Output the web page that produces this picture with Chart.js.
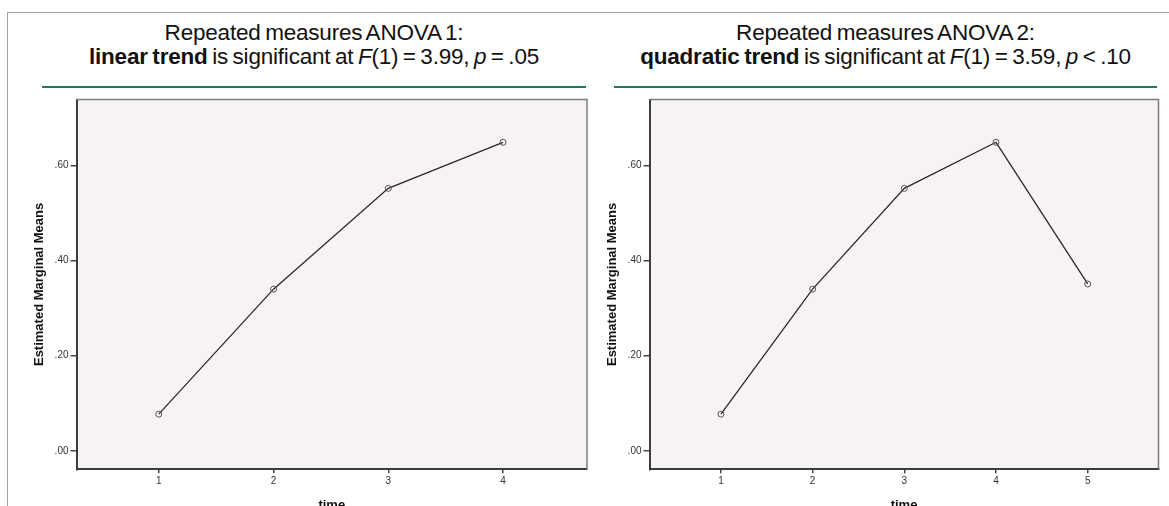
<!DOCTYPE html>
<html lang="en">
<head>
    <meta charset="UTF-8">
    <title>Repeated measures ANOVA - linear vs quadratic trend</title>
    <script src="https://cdn.jsdelivr.net/npm/chart.js"></script>
    <style>
        html, body { margin: 0; padding: 0; background: #fff; overflow: hidden; }
        body { width: 1169px; height: 506px; position: relative; font-family: "Liberation Sans", Arial, sans-serif; }
        #frame { position: absolute; left: 7px; top: 12px; width: 1200px; height: 520px; border-top: 1.5px solid #a3a3a3; border-left: 1.5px solid #a3a3a3; }
        .title { position: absolute; top: 21px; text-align: center; font-size: 22.5px; line-height: 24px; color: #111; word-spacing: -1.5px; letter-spacing: -0.2px; }
        .rule { position: absolute; top: 85.5px; height: 2.5px; background: #1f7a58; }
        .panel { position: absolute; top: 90px; width: 596px; height: 430px; }
    </style>
</head>
<body>

<div id="frame"></div>

<div class="title" style="left:42px; width:544px;">Repeated measures ANOVA 1:<br><b>linear trend</b> is significant at <i>F</i>(1) = 3.99, <i>p</i> = .05</div>
<div class="rule" style="left:42px; width:544px;"></div>

<div class="title" style="left:614px; width:543px;">Repeated measures ANOVA 2:<br><b>quadratic trend</b> is significant at <i>F</i>(1) = 3.59, <i>p</i> &lt; .10</div>
<div class="rule" style="left:614px; width:543px;"></div>

<div class="panel" style="left:0px;"><canvas id="chart1"></canvas></div>
<div class="panel" style="left:573px;"><canvas id="chart2"></canvas></div>

<script>
    // data
    const time1 = [1, 2, 3, 4];
    const means1 = [0.077, 0.340, 0.552, 0.649];

    const time2 = [1, 2, 3, 4, 5];
    const means2 = [0.077, 0.340, 0.552, 0.649, 0.351];

    const yTicks = [0, 0.2, 0.4, 0.6];

    // plot background + thin top/right frame
    const plotBox = {
        id: 'plotBox',
        beforeDraw(chart) {
            const {ctx, chartArea: a} = chart;
            ctx.save();
            ctx.fillStyle = '#f6f2f6';
            ctx.fillRect(a.left, a.top, a.right - a.left, a.bottom - a.top);
            ctx.restore();
        },
        afterDraw(chart) {
            const {ctx, chartArea: a} = chart;
            ctx.save();
            ctx.strokeStyle = '#7d7d7d';
            ctx.lineWidth = 1.5;
            ctx.beginPath();
            ctx.moveTo(a.left, a.top);
            ctx.lineTo(a.right, a.top);
            ctx.lineTo(a.right, a.bottom);
            ctx.stroke();
            ctx.restore();
        }
    };

    function makeChart(id, times, means, xMin, xMax, padRight) {
        const ctx = document.getElementById(id).getContext('2d');
        return new Chart(ctx, {
            type: 'line',
            data: {
                datasets: [{
                    data: times.map((t, i) => ({x: t, y: means[i]})),
                    borderColor: '#2a2a2a',
                    borderWidth: 1.3,
                    pointRadius: 3,
                    pointBorderColor: '#555',
                    pointBorderWidth: 1,
                    pointBackgroundColor: 'rgba(0,0,0,0)',
                    tension: 0
                }]
            },
            options: {
                responsive: true,
                maintainAspectRatio: false,
                animation: false,
                layout: { padding: { left: 0, top: 9.5, right: padRight, bottom: 0 } },
                plugins: { legend: { display: false }, tooltip: { enabled: false } },
                scales: {
                    x: {
                        type: 'linear',
                        min: xMin,
                        max: xMax,
                        afterBuildTicks: s => { s.ticks = times.map(v => ({value: v})); },
                        afterFit: s => { s.height = 50.7; },
                        ticks: { color: '#333', font: { family: 'Liberation Sans', size: 10 }, padding: 2 },
                        grid: { drawOnChartArea: false, drawTicks: true, tickLength: 4, tickColor: '#444', lineWidth: 1.5 },
                        border: { display: true, color: '#3c3c3c', width: 2 },
                        title: {
                            display: true, text: 'time', color: '#111',
                            font: { family: 'Liberation Sans', size: 13, weight: 'bold' },
                            padding: { top: 0, bottom: 7 }
                        }
                    },
                    y: {
                        min: -0.039,
                        max: 0.739,
                        afterBuildTicks: s => { s.ticks = yTicks.map(v => ({value: v})); },
                        afterFit: s => { s.width = 76.5; },
                        ticks: {
                            color: '#333', font: { family: 'Liberation Sans', size: 10 }, padding: 2,
                            callback: v => v.toFixed(2).replace(/^0/, '')
                        },
                        grid: { drawOnChartArea: false, drawTicks: true, tickLength: 6, tickColor: '#444', lineWidth: 1.5 },
                        border: { display: true, color: '#3c3c3c', width: 2 },
                        title: {
                            display: true, text: 'Estimated Marginal Means', color: '#111',
                            font: { family: 'Liberation Sans', size: 13, weight: 'bold' },
                            padding: { top: 32, bottom: 0 }
                        }
                    }
                }
            },
            plugins: [plotBox]
        });
    }

    makeChart('chart1', time1, means1, 0.283, 4.732, 9);
    makeChart('chart2', time2, means2, 0.221, 5.772, 10.5);
</script>

</body>
</html>
